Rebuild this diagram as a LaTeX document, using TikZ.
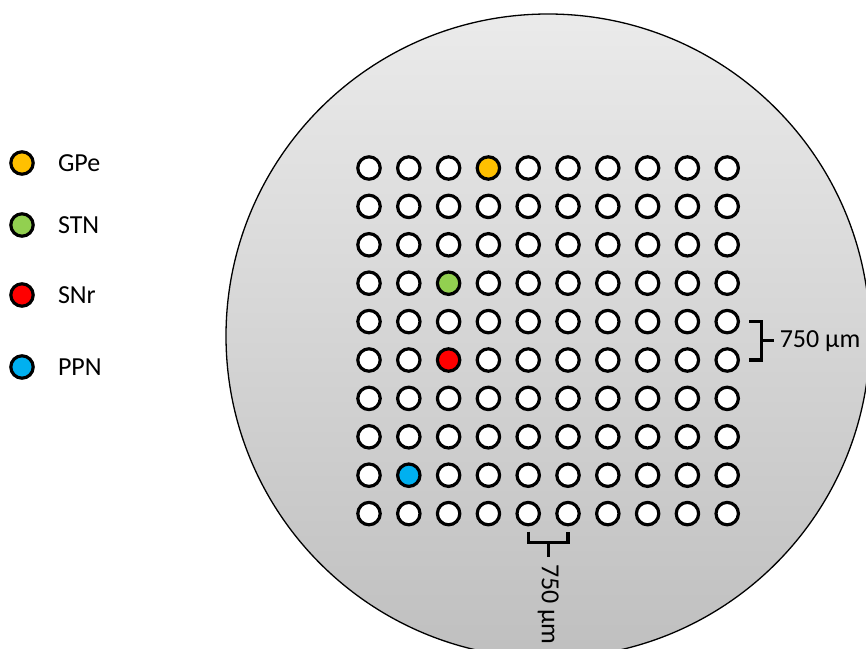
\documentclass[tikz,border=0pt]{standalone}
\usepackage{fontspec}
\setmainfont{Carlito}
\usetikzlibrary{positioning,calc}
\definecolor{gpe}{HTML}{FFC000}
\definecolor{stn}{HTML}{92D050}
\definecolor{snr}{HTML}{FF0000}
\definecolor{ppn}{HTML}{00B0F0}

\begin{document}
\begin{tikzpicture}[x=1pt, y=-1pt, font=\fontsize{26}{30}\selectfont,
    dot/.style={circle, draw=black, line width=3.2pt, fill=white, inner sep=0pt, minimum size=22.4pt},
    lgtext/.style={inner sep=2pt},
    brace/.style={line width=3.2pt}]
  \useasboundingbox (0,0) rectangle (866,648);
  % array disc
  \begin{scope}
    \clip (0,0) rectangle (866,648);
    \shade[top color=black!8, bottom color=black!25, draw=black, line width=1.3pt] (548,336) circle[radius=322];
  \end{scope}
  % 10 x 10 electrodes
  \foreach \r in {1,...,10}
    \foreach \c in {1,...,10}{
      \def\dc{white}
      \ifnum\r\c=14 \def\dc{gpe}\fi
      \ifnum\r\c=43 \def\dc{stn}\fi
      \ifnum\r\c=63 \def\dc{snr}\fi
      \ifnum\r\c=92 \def\dc{ppn}\fi
      \node[dot, fill=\dc] (d-\r-\c) at ({369+(\c-1)*39.8}, {168+(\r-1)*38.4}) {};
    }
  % pitch braces
  \draw[brace] ($(d-5-10)+(22,0)$) -| ($(d-6-10)+(34,0)$) -- ($(d-6-10)+(22,0)$);
  \coordinate (rb) at ($(d-5-10)!.5!(d-6-10)+(34,0)$);
  \draw[brace] (rb) -- ++(13,0) node[anchor=west, inner sep=4pt] {750 µm};
  \draw[brace] ($(d-10-5)+(0,18)$) |- ($(d-10-6)+(0,29)$) -- ($(d-10-6)+(0,18)$);
  \coordinate (bb) at ($(d-10-5)!.5!(d-10-6)+(0,29)$);
  \draw[brace] (bb) -- ++(0,14) node[rotate=-90, anchor=west, inner sep=6pt] {750 µm};
  % legend
  \node[dot, fill=gpe] (lg-gpe) at (22,163) {};
  \node[dot, fill=stn] (lg-stn) at (22,225) {};
  \node[dot, fill=snr] (lg-snr) at (22,295) {};
  \node[dot, fill=ppn] (lg-ppn) at (22,367) {};
  \node[lgtext, right=21pt of lg-gpe] (lb-gpe) {GPe};
  \node[lgtext, right=21pt of lg-stn] (lb-stn) {STN};
  \node[lgtext, right=21pt of lg-snr] (lb-snr) {SNr};
  \node[lgtext, right=21pt of lg-ppn] (lb-ppn) {PPN};
\end{tikzpicture}
\end{document}
